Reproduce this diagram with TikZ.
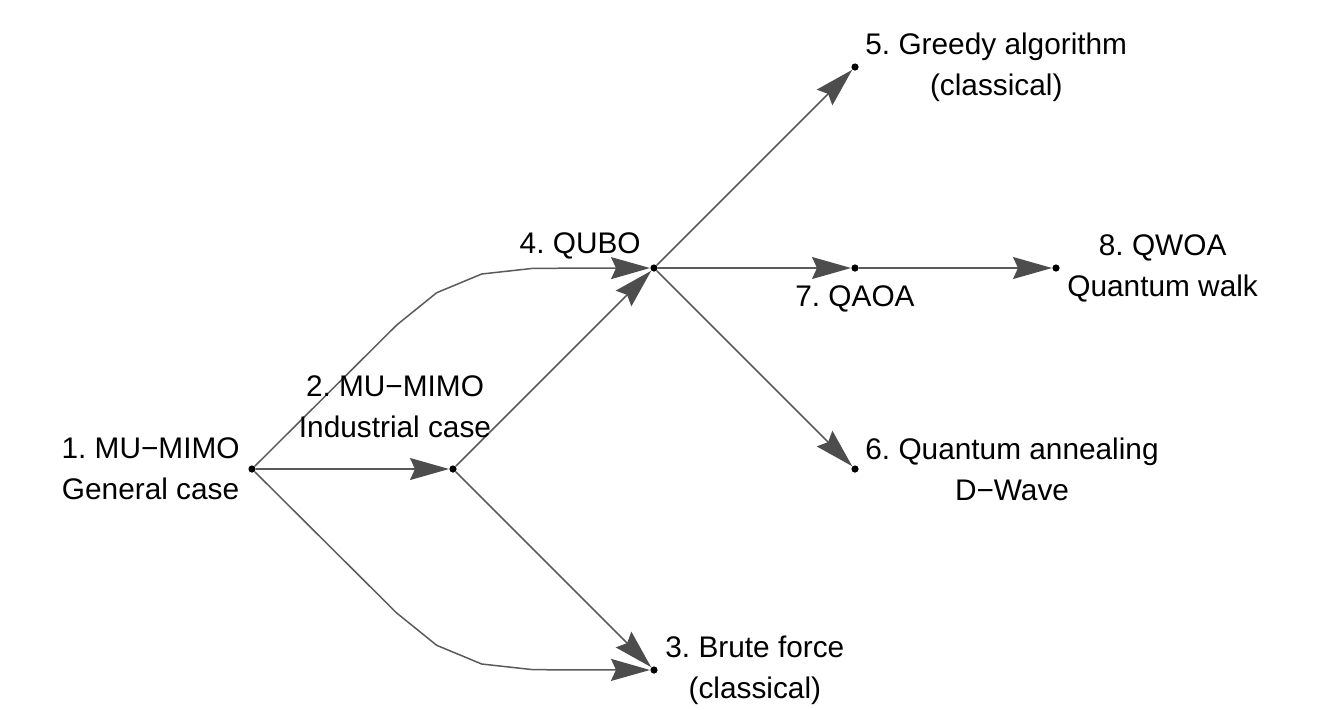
\documentclass[tikz,border=0pt]{standalone}
\usepackage{fontspec}
\setmainfont{Liberation Sans}
\usetikzlibrary{arrows.meta}
\definecolor{edgegray}{HTML}{5A5A5A}
\definecolor{headgray}{HTML}{4D4D4D}
\frenchspacing
\begin{document}
\begin{tikzpicture}[x=0.5pt,y=-0.5pt,
  vtx/.style={circle,fill=black,inner sep=0pt,minimum size=3.6pt},
  lbl/.style={inner sep=0pt,align=center,font=\fontsize{14.9pt}{20.5pt}\selectfont},
  conn/.style={draw=edgegray,line width=0.75pt,
    -{Stealth[length=19.5pt,width=11pt,inset=2.5pt,fill=headgray,color=headgray]}}]
\useasboundingbox (0,0) rectangle (1322,709);
% vertices
\node[vtx] (n1) at (252,469) {};
\node[vtx] (n2) at (453,469) {};
\node[vtx] (n3) at (654,670) {};
\node[vtx] (n4) at (654,268) {};
\node[vtx] (n5) at (855,67) {};
\node[vtx] (n6) at (855,469) {};
\node[vtx] (n7) at (855,268) {};
\node[vtx] (n8) at (1056,268) {};
% bend points
\coordinate (u1) at (396.7,325);
\coordinate (u2) at (436.7,292.7);
\coordinate (u3) at (481.7,274);
\coordinate (u4) at (533.3,268.3);
\coordinate (d1) at (396.7,613);
\coordinate (d2) at (436.7,645.3);
\coordinate (d3) at (481.7,664);
\coordinate (d4) at (533.3,669.7);
% connectors
\draw[conn] (n1) -- (n2);
\draw[conn] (n1) -- (u1) -- (u2) -- (u3) -- (u4) -- (n4);
\draw[conn] (n1) -- (d1) -- (d2) -- (d3) -- (d4) -- (n3);
\draw[conn] (n2) -- (n4);
\draw[conn] (n2) -- (n3);
\draw[conn] (n4) -- (n5);
\draw[conn] (n4) -- (n7);
\draw[conn] (n4) -- (n6);
\draw[conn] (n7) -- (n8);
% labels
\node[lbl,anchor=east,xshift=-6pt] (l1) at (n1) {1. MU−MIMO\\General case};
\node[lbl,anchor=south] (l2) at (395,438) {2. MU−MIMO\\Industrial case};
\node[lbl,anchor=west,xshift=5.5pt] (l3) at (n3) {3. Brute force\\(classical)};
\node[lbl,anchor=base east] (l4) at (641,253) {4. QUBO};
\node[lbl,anchor=west,xshift=5pt] (l5) at (n5) {5. Greedy algorithm\\(classical)};
\node[lbl,anchor=west,xshift=5pt] (l6) at (n6) {6. Quantum annealing\\D−Wave};
\node[lbl,anchor=north,yshift=-8.5pt] (l7) at (n7) {7. QAOA};
\node[lbl,anchor=west,xshift=5.5pt] (l8) at (n8) {8. QWOA\\Quantum walk};
\end{tikzpicture}
\end{document}
